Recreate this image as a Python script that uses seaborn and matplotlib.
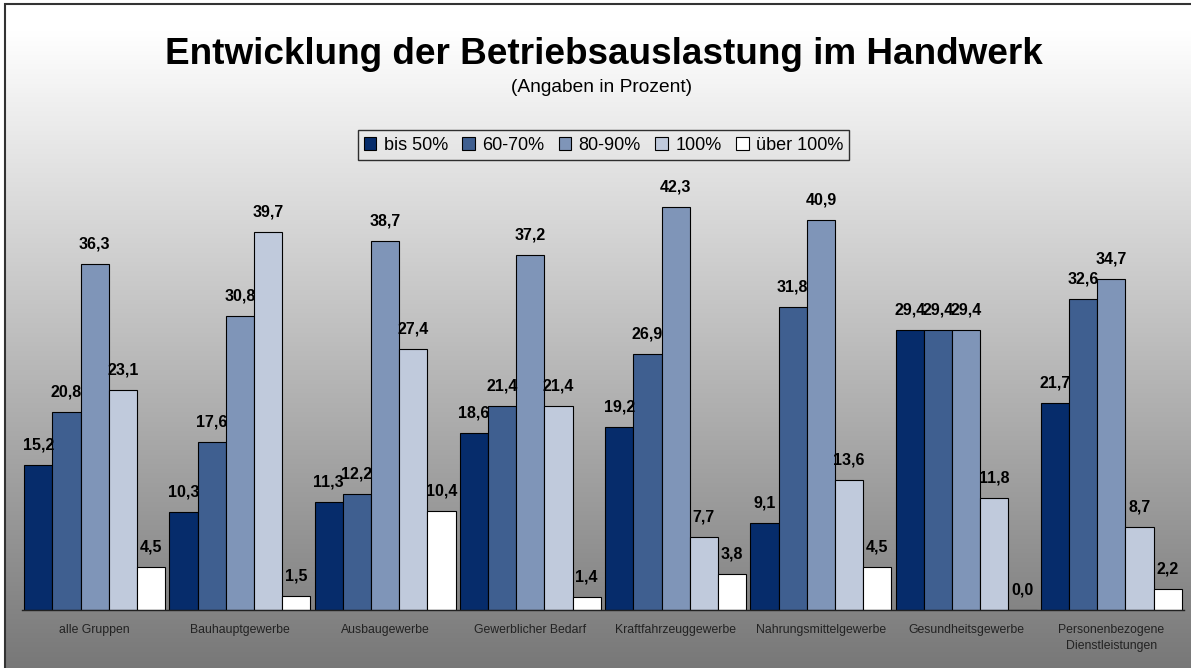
import numpy as np
import pandas as pd
import matplotlib
matplotlib.use("Agg")
import matplotlib.pyplot as plt
from matplotlib.patches import Rectangle
import seaborn as sns

categories = ["alle Gruppen", "Bauhauptgewerbe", "Ausbaugewerbe", "Gewerblicher Bedarf",
              "Kraftfahrzeuggewerbe", "Nahrungsmittelgewerbe", "Gesundheitsgewerbe",
              "Personenbezogene\nDienstleistungen"]
series = ["bis 50%", "60-70%", "80-90%", "100%", "über 100%"]
bis50 = [15.2, 10.3, 11.3, 18.6, 19.2, 9.1, 29.4, 21.7]
p6070 = [20.8, 17.6, 12.2, 21.4, 26.9, 31.8, 29.4, 32.6]
p8090 = [36.3, 30.8, 38.7, 37.2, 42.3, 40.9, 29.4, 34.7]
p100 = [23.1, 39.7, 27.4, 21.4, 7.7, 13.6, 11.8, 8.7]
ueber100 = [4.5, 1.5, 10.4, 1.4, 3.8, 4.5, 0.0, 2.2]
colors = ["#062c6b", "#3f5f90", "#7f95b8", "#c0cadc", "#ffffff"]

rows = []
for s, vals in zip(series, [bis50, p6070, p8090, p100, ueber100]):
    for c, v in zip(categories, vals):
        rows.append({"Gruppe": c, "Auslastung": s, "Wert": v})
df = pd.DataFrame(rows)

sns.set_style("white")
plt.rcParams["font.family"] = ["Liberation Sans", "DejaVu Sans"]
plt.rcParams["text.color"] = "black"

W, H = 1191, 668
fig = plt.figure(figsize=(W / 100, H / 100), dpi=100)
fig.patch.set_facecolor("white")

# background gradient
bg = fig.add_axes([5 / W, 0, 1 - 5 / W, 1 - 4 / H], zorder=-10)
grad = np.linspace(0, 1, 256).reshape(-1, 1)
top, bot = 1.0, 0.47
vals = np.clip(top - (top - bot) * (grad - 0.04) / 0.96, bot, top)
img = np.dstack([vals, vals, vals])
bg.imshow(img, aspect="auto", extent=[0, 1, 0, 1], origin="upper")
bg.set_axis_off()
fig.patches.append(Rectangle((5 / W, -0.01), 1.0, 1 - 4 / H + 0.01, transform=fig.transFigure,
                             fill=False, edgecolor="#333333", linewidth=1.5, clip_on=False))

ax = fig.add_axes([22 / W, 1 - 610 / H, (1184 - 22) / W, (610 - 181) / H])
ax.set_facecolor("none")
ax.patch.set_alpha(0)
sns.barplot(data=df, x="Gruppe", y="Wert", hue="Auslastung", palette=colors, saturation=1,
            edgecolor="black", linewidth=0.8, width=0.97, gap=0, ax=ax, legend=False)
ax.set_ylim(0, 45)
ax.set_xlim(-0.5, len(categories) - 0.5)
for cont in ax.containers:
    labels = [f"{b.get_height():.1f}".replace(".", ",") for b in cont]
    ax.bar_label(cont, labels=labels, padding=9, fontsize=11.5, fontweight="bold", color="black")

for sp in ["top", "left", "right"]:
    ax.spines[sp].set_visible(False)
ax.spines["bottom"].set_color("#222222")
ax.spines["bottom"].set_linewidth(1)
ax.set_yticks([])
ax.set_xlabel("")
ax.set_ylabel("")
ax.set_xticks(range(len(categories)))
ax.set_xticklabels(categories, fontsize=8.8, color="#222222", linespacing=1.5)
ax.tick_params(axis="x", which="major", length=0, pad=10)
ax.set_xticks(np.arange(-0.5, len(categories), 1.0), minor=True)
ax.tick_params(axis="x", which="minor", length=3, direction="out", color="#222222")

fig.text(604 / W, 1 - 55 / H, "Entwicklung der Betriebsauslastung im Handwerk",
         ha="center", va="center", fontsize=26.6, fontweight="bold", color="black")
fig.text(602 / W, 1 - 88 / H, "(Angaben in Prozent)", ha="center", va="center", fontsize=13.8,
         color="black")

handles = [Rectangle((0, 0), 1, 1, facecolor=c, edgecolor="black", linewidth=0.8) for c in colors]
leg = fig.legend(handles, series, ncol=5, loc="center", bbox_to_anchor=(603.5 / W, 1 - 145 / H),
                 fontsize=13, frameon=True, handlelength=0.7, handleheight=0.7,
                 handletextpad=0.4, columnspacing=0.8, borderpad=0.35, fancybox=False)
leg.get_frame().set_facecolor("none")
leg.get_frame().set_edgecolor("black")
leg.get_frame().set_linewidth(1)
for t in leg.get_texts():
    t.set_color("black")

fig.savefig("out.png", dpi=100)
